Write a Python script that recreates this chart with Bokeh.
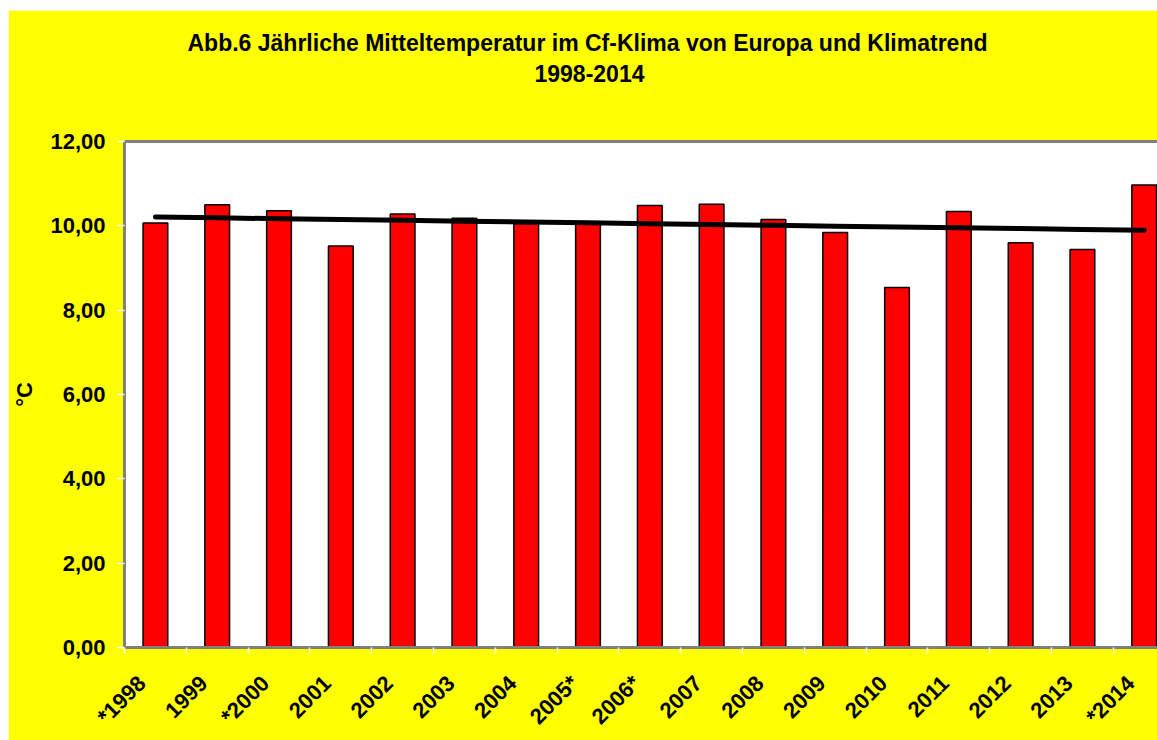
import numpy as np
from bokeh.plotting import figure
from bokeh.layouts import row, column
from bokeh.models import (FixedTicker, CustomJSTickFormatter, LinearAxis, Range1d, Title, Spacer)
from bokeh.embed import file_html
from bokeh.resources import INLINE

# ---- data ----
years = ["*1998", "1999", "*2000", "2001", "2002", "2003", "2004", "2005*", "2006*",
         "2007", "2008", "2009", "2010", "2011", "2012", "2013", "*2014"]
temps = [10.07, 10.50, 10.36, 9.52, 10.28, 10.18, 10.05, 10.05, 10.48,
         10.51, 10.15, 9.84, 8.54, 10.34, 9.60, 9.44, 10.97]
y_ticks = [0, 2, 4, 6, 8, 10, 12]
title_lines = ["Abb.6 Jährliche Mitteltemperatur im Cf-Klima von Europa und Klimatrend",
               "1998-2014"]
y_label = "°C"

# ---- derived ----
n = len(years)
idx = np.arange(n)
xc = idx + 0.5
slope, intercept = np.polyfit(idx, temps, 1)
trend = intercept + slope * idx

FONT = "Liberation Sans"
FS = "22px"
GREY = "#808080"
LABEL_SHIFT = -0.22
TITLE_OFFSETS = [63, 410]

p = figure(width=1149, height=730, output_backend="svg", toolbar_location=None,
           x_range=Range1d(0, 16.715), y_range=Range1d(0, 12),
           min_border_left=116, min_border_right=0, min_border_top=131, min_border_bottom=93,
           background_fill_color="white", border_fill_color="#FFFF00",
           outline_line_color=None)
p.grid.visible = False

p.vbar(x=xc, top=temps, bottom=0, width=0.4, fill_color="#FF0000",
       line_color="black", line_width=1.5)
p.line(x=xc, y=trend, line_color="black", line_width=5, line_cap="round")

xa = p.xaxis[0]
xa.ticker = FixedTicker(ticks=list(xc + LABEL_SHIFT), minor_ticks=list(range(n + 1)))
xa.formatter = CustomJSTickFormatter(args=dict(labels=years),
                                     code="return labels[Math.floor(tick + 1e-6)] || '';")
xa.major_tick_line_color = None
xa.major_tick_in = 0
xa.major_tick_out = 6
xa.minor_tick_line_color = "white"
xa.minor_tick_line_width = 1.5
xa.minor_tick_in = 0
xa.minor_tick_out = 6
xa.axis_line_color = GREY
xa.axis_line_width = 3
xa.major_label_orientation = np.pi / 4
xa.major_label_text_font = FONT
xa.major_label_text_font_style = "bold"
xa.major_label_text_font_size = FS
xa.major_label_text_color = "black"
xa.major_label_standoff = 26

ya = p.yaxis[0]
ya.ticker = FixedTicker(ticks=y_ticks)
ya.formatter = CustomJSTickFormatter(code="return tick.toFixed(2).replace('.', ',');")
ya.major_tick_line_color = "white"
ya.major_tick_line_width = 1.5
ya.major_tick_in = 0
ya.major_tick_out = 7
ya.minor_tick_line_color = None
ya.axis_line_color = GREY
ya.axis_line_width = 3
ya.major_label_text_font = FONT
ya.major_label_text_font_style = "bold"
ya.major_label_text_font_size = FS
ya.major_label_text_color = "black"
ya.major_label_standoff = 12
ya.axis_label = y_label
ya.axis_label_text_font = FONT
ya.axis_label_text_font_style = "bold"
ya.axis_label_text_font_size = FS
ya.axis_label_text_color = "black"
ya.axis_label_standoff = 10

top_axis = LinearAxis(ticker=FixedTicker(ticks=[]), axis_line_color=GREY, axis_line_width=3,
                      major_tick_line_color=None, minor_tick_line_color=None,
                      major_label_text_font_size="0px")
p.add_layout(top_axis, "above")

p.add_layout(Title(text=" ", text_font_size="40px"), "above")
for line, off in reversed(list(zip(title_lines, TITLE_OFFSETS))):
    p.add_layout(Title(text=line, align="left", offset=off, standoff=7, text_font=FONT,
                       text_font_style="bold", text_font_size="23px", text_color="black"),
                 "above")

page = row(Spacer(width=8), column(Spacer(height=10), p))
open("out.html", "w").write(file_html(page, INLINE))
